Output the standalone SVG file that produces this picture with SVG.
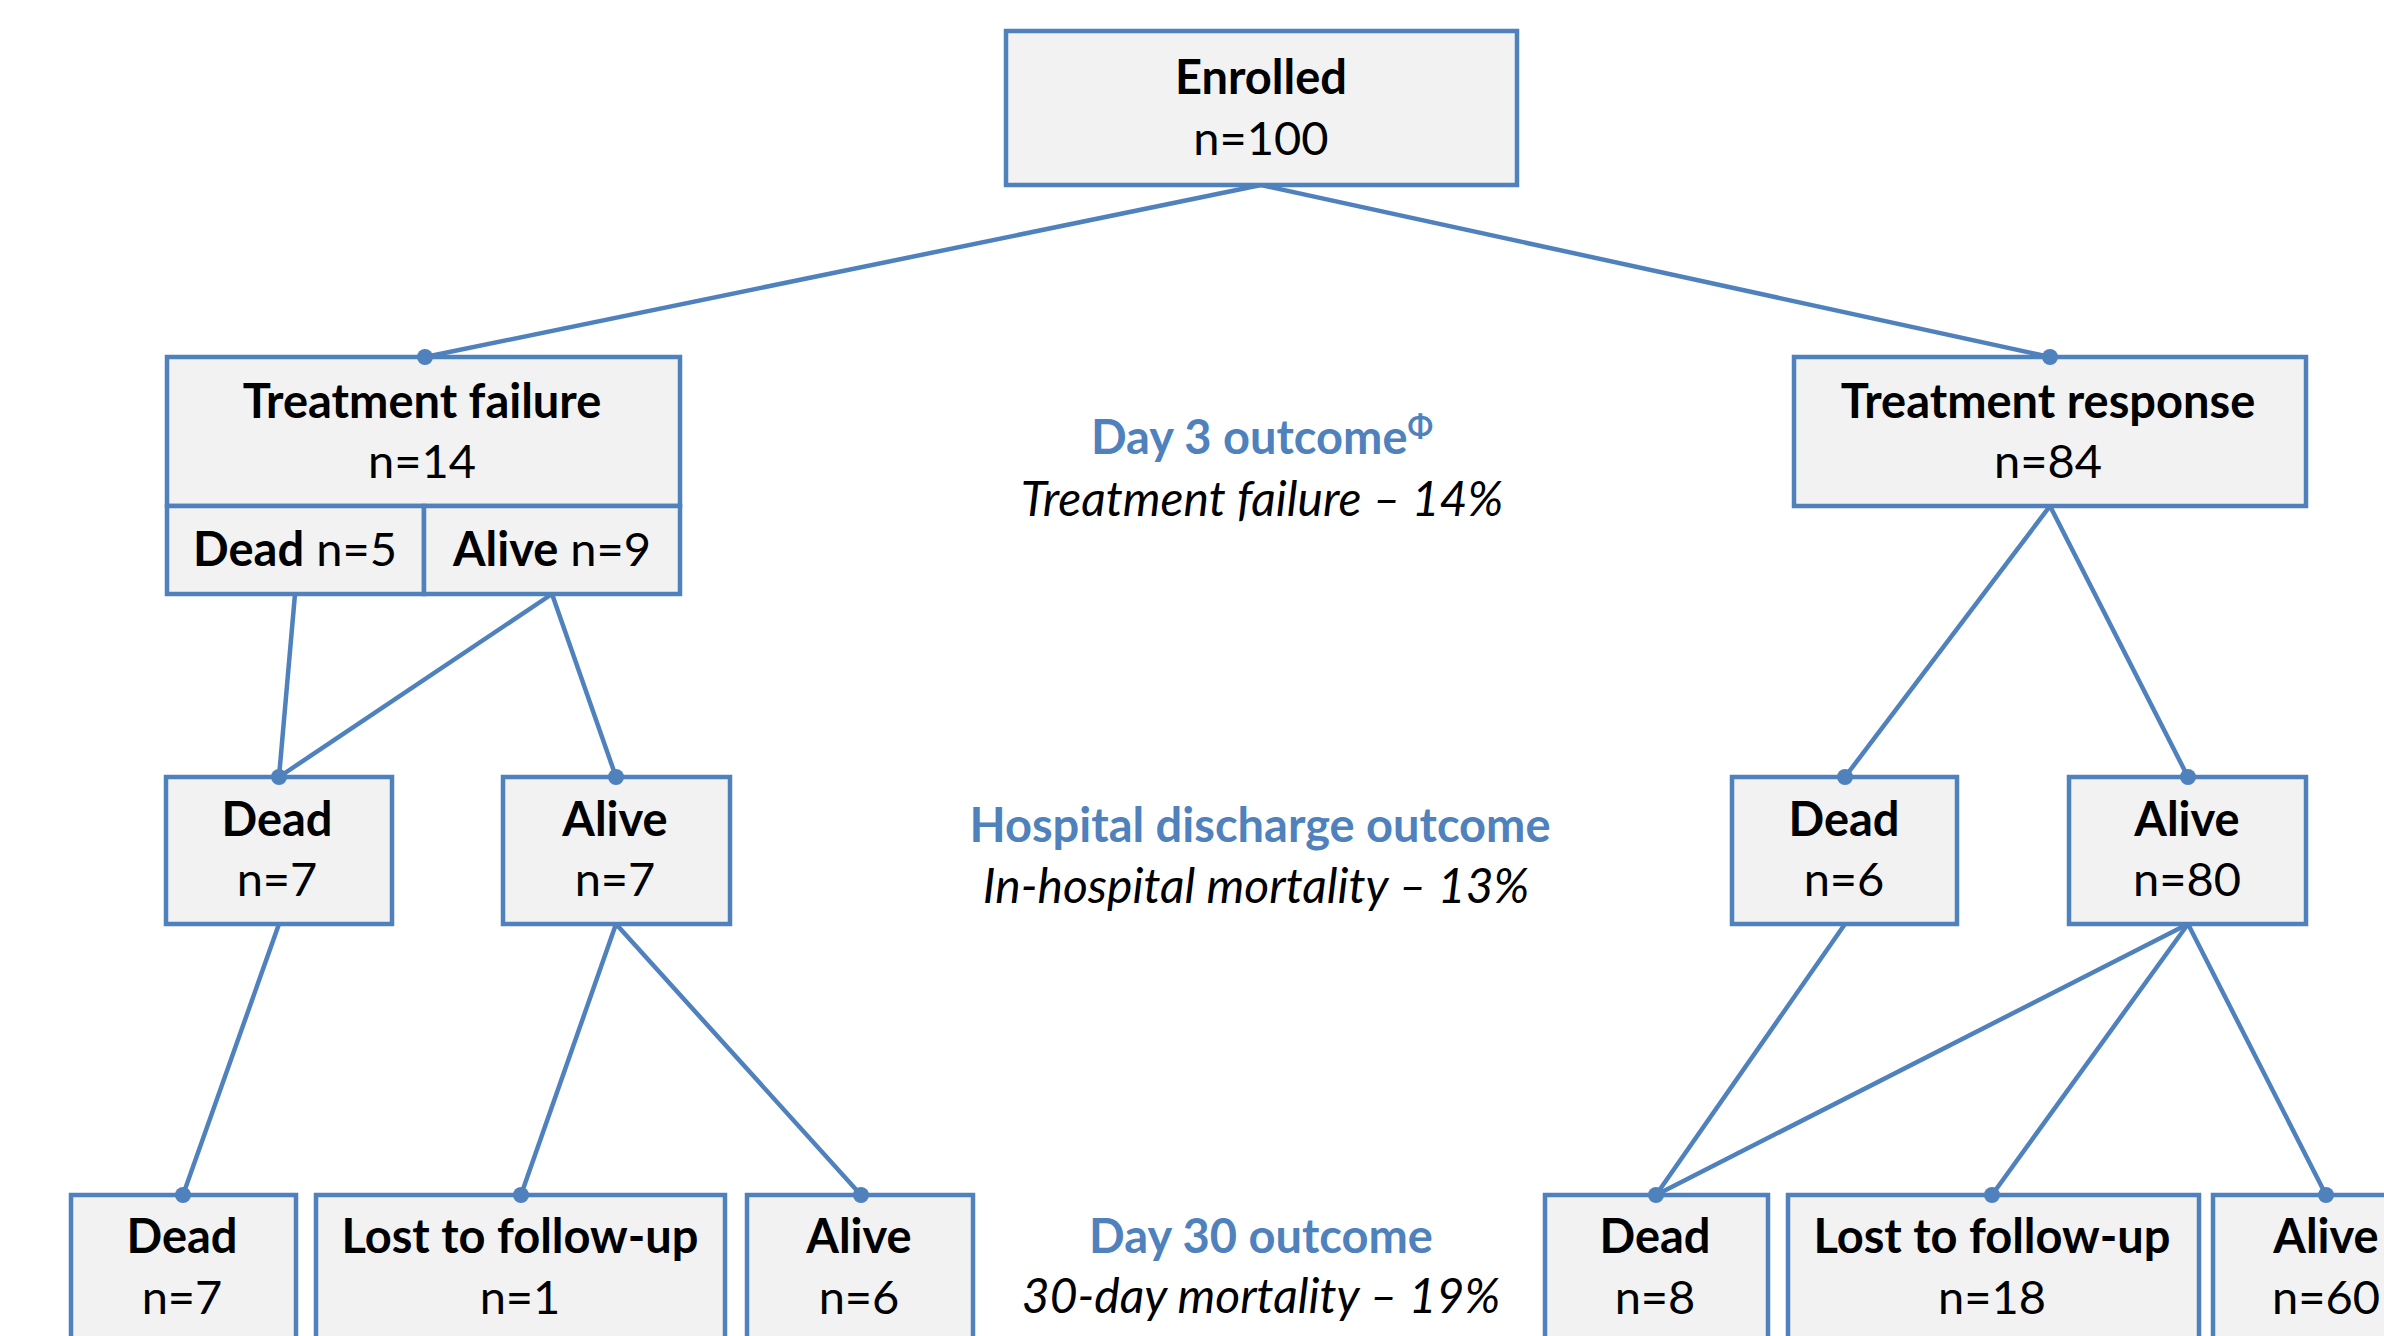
<svg xmlns="http://www.w3.org/2000/svg" width="2384" height="1336" viewBox="0 0 2384 1336">
<style>
.box{fill:#F2F2F2;stroke:#4F81BD;stroke-width:4.5}
.t{font-family:Lato,"Open Sans","Liberation Sans",sans-serif;font-size:47px;fill:#000;text-anchor:middle}
.b{font-weight:bold}
.lab{font-family:Lato,"Open Sans","Liberation Sans",sans-serif;font-size:47px;text-anchor:middle}
.h{fill:#4F81BD;font-weight:bold}
.i{fill:#000;font-style:italic;font-size:48px}
.c line{stroke:#4F81BD;stroke-width:4.5;fill:none}
.c circle{fill:#4F81BD}
</style>
<rect width="2384" height="1336" fill="#fff"/>
<g class="c" id="connectors">
<line x1="1261" y1="185" x2="425" y2="357"/>
<line x1="1261" y1="185" x2="2050" y2="357"/>
<line x1="295" y1="594" x2="279" y2="777"/>
<line x1="552" y1="594" x2="279" y2="777"/>
<line x1="552" y1="594" x2="616" y2="777"/>
<line x1="2050" y1="506" x2="1845" y2="777"/>
<line x1="2050" y1="506" x2="2188" y2="777"/>
<line x1="279" y1="924" x2="183" y2="1195"/>
<line x1="616" y1="924" x2="521" y2="1195"/>
<line x1="616" y1="924" x2="861" y2="1195"/>
<line x1="1845" y1="924" x2="1656" y2="1195"/>
<line x1="2188" y1="924" x2="1656" y2="1195"/>
<line x1="2188" y1="924" x2="1992" y2="1195"/>
<line x1="2188" y1="924" x2="2326" y2="1195"/>
</g>
<g id="enrolled"><rect class="box" x="1006" y="31" width="511" height="154"/>
<text class="t b" x="1261" y="94">Enrolled</text><text class="t" x="1261" y="155">n=100</text></g>
<g id="tfail"><rect class="box" x="167" y="357" width="513" height="149"/>
<text class="t b" x="422" y="418">Treatment failure</text><text class="t" x="422" y="478">n=14</text></g>
<g id="tfail-dead"><rect class="box" x="167" y="506" width="257" height="88"/>
<text class="t" x="295" y="566"><tspan class="b">Dead</tspan> n=5</text></g>
<g id="tfail-alive"><rect class="box" x="424" y="506" width="256" height="88"/>
<text class="t" x="552" y="566"><tspan class="b">Alive</tspan> n=9</text></g>
<g id="tresp"><rect class="box" x="1794" y="357" width="512" height="149"/>
<text class="t b" x="2048" y="418">Treatment response</text><text class="t" x="2048" y="478">n=84</text></g>
<g id="l3-dead-l"><rect class="box" x="166" y="777" width="226" height="147"/>
<text class="t b" x="277" y="836">Dead</text><text class="t" x="277" y="896">n=7</text></g>
<g id="l3-alive-l"><rect class="box" x="503" y="777" width="227" height="147"/>
<text class="t b" x="615" y="836">Alive</text><text class="t" x="615" y="896">n=7</text></g>
<g id="l3-dead-r"><rect class="box" x="1732" y="777" width="225" height="147"/>
<text class="t b" x="1844" y="836">Dead</text><text class="t" x="1844" y="896">n=6</text></g>
<g id="l3-alive-r"><rect class="box" x="2069" y="777" width="237" height="147"/>
<text class="t b" x="2187" y="836">Alive</text><text class="t" x="2187" y="896">n=80</text></g>
<g id="l4-dead-l"><rect class="box" x="71" y="1195" width="225" height="160"/>
<text class="t b" x="182" y="1253">Dead</text><text class="t" x="182" y="1314">n=7</text></g>
<g id="l4-lost-l"><rect class="box" x="316" y="1195" width="409" height="160"/>
<text class="t b" x="520" y="1253">Lost to follow-up</text><text class="t" x="520" y="1314">n=1</text></g>
<g id="l4-alive-l"><rect class="box" x="747" y="1195" width="226" height="160"/>
<text class="t b" x="859" y="1253">Alive</text><text class="t" x="859" y="1314">n=6</text></g>
<g id="l4-dead-r"><rect class="box" x="1545" y="1195" width="223" height="160"/>
<text class="t b" x="1655" y="1253">Dead</text><text class="t" x="1655" y="1314">n=8</text></g>
<g id="l4-lost-r"><rect class="box" x="1788" y="1195" width="411" height="160"/>
<text class="t b" x="1992" y="1253">Lost to follow-up</text><text class="t" x="1992" y="1314">n=18</text></g>
<g id="l4-alive-r"><rect class="box" x="2213" y="1195" width="226" height="160"/>
<text class="t b" x="2326" y="1253">Alive</text><text class="t" x="2326" y="1314">n=60</text></g>
<g class="c" id="dots">
<circle cx="425" cy="357" r="8"/><circle cx="2050" cy="357" r="8"/>
<circle cx="279" cy="777" r="8"/><circle cx="616" cy="777" r="8"/>
<circle cx="1845" cy="777" r="8"/><circle cx="2188" cy="777" r="8"/>
<circle cx="183" cy="1195" r="8"/><circle cx="521" cy="1195" r="8"/><circle cx="861" cy="1195" r="8"/>
<circle cx="1656" cy="1195" r="8"/><circle cx="1992" cy="1195" r="8"/><circle cx="2326" cy="1195" r="8"/>
</g>
<g id="label-day3">
<text class="lab h" x="1262" y="454">Day 3 outcome<tspan font-size="30" dy="-17">Φ</tspan></text>
<text class="lab i" x="1262" y="516">Treatment failure – 14%</text></g>
<g id="label-hosp">
<text class="lab h" x="1260" y="842">Hospital discharge outcome</text>
<text class="lab i" x="1256" y="903">In-hospital mortality – 13%</text></g>
<g id="label-day30">
<text class="lab h" x="1261" y="1253">Day 30 outcome</text>
<text class="lab i" x="1261" y="1313">30-day mortality – 19%</text></g>
</svg>
